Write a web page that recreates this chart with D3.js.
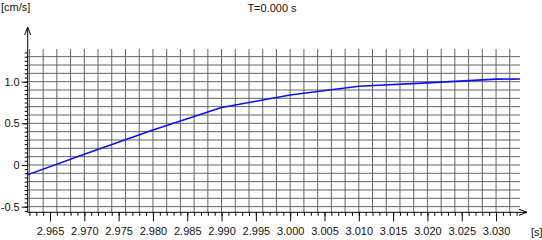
<!DOCTYPE html>
<html>
<head>
<meta charset="utf-8">
<script src="https://cdn.jsdelivr.net/npm/d3@7"></script>
<style>
  html, body { margin: 0; padding: 0; background: #fff; }
  svg { display: block; font-family: "Liberation Sans", Arial, sans-serif; }
</style>
</head>
<body>
<svg id="chart" width="542" height="240"></svg>
<script>
// ---- data ----
const times = [2.96, 2.97, 2.98, 2.99, 3.00, 3.01, 3.02, 3.03, 3.04];
const velocity = [-0.17, 0.13, 0.42, 0.69, 0.84, 0.945, 0.985, 1.03, 1.035];
const xTickLabels = [2.965, 2.970, 2.975, 2.980, 2.985, 2.990, 2.995, 3.000, 3.005, 3.010, 3.015, 3.020, 3.025, 3.030];
const yTickLabels = [-0.5, 0, 0.5, 1.0];
const xGridValues = d3.range(0, 36).map(i => 2.962 + i * 0.002);
const yGridValues = d3.range(0, 19).map(i => -0.5 + i * 0.1);
const xMinorTicks = d3.range(0, 72).map(i => 2.962 + i * 0.001);
const yMinorTicks = d3.range(0, 39).map(i => -0.55 + i * 0.05);
const titleText = "T=0.000 s";
const yUnit = "[cm/s]";
const xUnit = "[s]";

// ---- layout ----
(function () {
const svg = d3.select("#chart");
const pL = 27.7, pR = 520, pT = 49, pB = 212.3;
const x = d3.scaleLinear().domain([2.96175, 3.03349]).range([pL, pR]);
const y = d3.scaleLinear().domain([-0.568, 1.392]).range([pB, pT]);

// grid
const grid = svg.append("g").attr("stroke", "#4a4a4a").attr("stroke-width", 1).attr("opacity", 0.85);
grid.selectAll("line.v").data(xGridValues).join("line").attr("class", "v")
  .attr("x1", d => x(d)).attr("x2", d => x(d))
  .attr("y1", pT).attr("y2", pB);
grid.selectAll("line.h").data(yGridValues).join("line").attr("class", "h")
  .attr("x1", pL).attr("x2", pR)
  .attr("y1", d => y(d)).attr("y2", d => y(d));

// clip
svg.append("clipPath").attr("id", "clip").append("rect")
  .attr("x", pL).attr("y", pT).attr("width", pR - pL).attr("height", pB - pT);

// data line
const line = d3.line().x((d, i) => x(times[i])).y(d => y(d));
svg.append("path").datum(velocity)
  .attr("clip-path", "url(#clip)")
  .attr("fill", "none").attr("stroke", "#1010ee").attr("stroke-width", 1.6)
  .attr("d", line);

// x axis minor ticks
svg.append("g").attr("transform", `translate(0,${pB})`)
  .call(d3.axisBottom(x).tickValues(xMinorTicks).tickSize(3.5).tickFormat(""))
  .call(g => g.select(".domain").remove());
// x axis major ticks
const xa = svg.append("g").attr("transform", `translate(0,${pB})`)
  .call(d3.axisBottom(x).tickValues(xTickLabels).tickSize(9).tickPadding(6).tickFormat(d => d.toFixed(3)))
  .call(g => g.select(".domain").remove());
xa.selectAll("text").attr("font-size", 11).attr("fill", "#111").attr("font-family", "Liberation Sans, Arial, sans-serif");

// y axis minor ticks
svg.append("g").attr("transform", `translate(${pL},0)`)
  .call(d3.axisLeft(y).tickValues(yMinorTicks).tickSize(3).tickFormat(""))
  .call(g => g.select(".domain").remove());
const ya = svg.append("g").attr("transform", `translate(${pL},0)`)
  .call(d3.axisLeft(y).tickValues(yTickLabels).tickSize(6).tickPadding(2)
    .tickFormat(d => d === 0 ? "0" : d.toFixed(1)))
  .call(g => g.select(".domain").remove());
ya.selectAll("text").attr("font-size", 11).attr("fill", "#111").attr("font-family", "Liberation Sans, Arial, sans-serif");

// axis lines with arrows
const ax = svg.append("g").attr("stroke", "#000").attr("stroke-width", 1).attr("fill", "none");
ax.append("line").attr("x1", pL).attr("x2", pL).attr("y1", pB).attr("y2", 27);
ax.append("path").attr("d", `M${pL - 3},35 L${pL},27 L${pL + 3},35`);
ax.append("line").attr("x1", pL).attr("x2", 527).attr("y1", pB).attr("y2", pB);
ax.append("path").attr("d", `M519,${pB - 3} L527,${pB} L519,${pB + 3}`);

// texts
svg.append("text").attr("x", 272).attr("y", 12).attr("text-anchor", "middle")
  .attr("font-size", 11).attr("fill", "#111").text(titleText);
svg.append("text").attr("x", 1).attr("y", 11)
  .attr("font-size", 11).attr("fill", "#111").text(yUnit);
svg.append("text").attr("x", 531).attr("y", 236)
  .attr("font-size", 11).attr("fill", "#111").text(xUnit);
})();
</script>
</body>
</html>
